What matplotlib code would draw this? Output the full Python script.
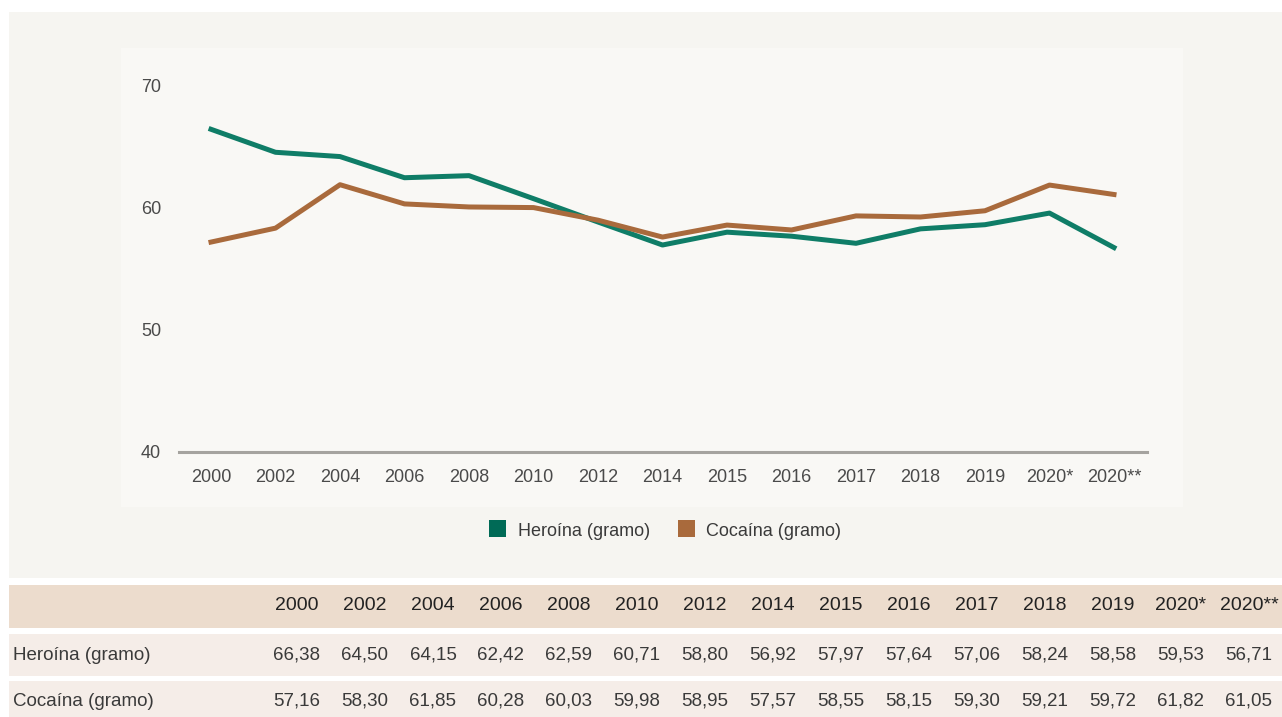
import matplotlib.pyplot as plt
from matplotlib.patches import Rectangle

years = ["2000", "2002", "2004", "2006", "2008", "2010", "2012", "2014",
         "2015", "2016", "2017", "2018", "2019", "2020*", "2020**"]
heroina = [66.38, 64.50, 64.15, 62.42, 62.59, 60.71, 58.80, 56.92,
           57.97, 57.64, 57.06, 58.24, 58.58, 59.53, 56.71]
cocaina = [57.16, 58.30, 61.85, 60.28, 60.03, 59.98, 58.95, 57.57,
           58.55, 58.15, 59.30, 59.21, 59.72, 61.82, 61.05]
labels = ["Heroína (gramo)", "Cocaína (gramo)"]
yticks = [40, 50, 60, 70]

green = "#0f7d67"
brown = "#a96a3c"
txt = "#3a3a3a"

W, H = 1282, 717
plt.rcParams['font.family'] = ['Liberation Sans', 'DejaVu Sans']
fig = plt.figure(figsize=(W / 100, H / 100), dpi=100, facecolor="white")


def box(x0, y0, x1, y1, color):
    # pixel coords measured from the top-left corner
    fig.add_artist(Rectangle((x0 / W, 1 - y1 / H), (x1 - x0) / W, (y1 - y0) / H,
                             transform=fig.transFigure, color=color, lw=0, zorder=0))


box(9, 12, 1282, 578, "#f6f5f1")
box(121, 48, 1183, 507, "#f9f8f5")
box(9, 585, 1282, 628, "#ecdccd")
box(9, 634, 1282, 676, "#f5ede8")
box(9, 681, 1282, 717, "#f5ede8")

ax = fig.add_axes([179 / W, 1 - 452 / H, 968 / W, 367 / H])
ax.set_facecolor("none")
x = range(len(years))
ax.plot(x, heroina, color=green, lw=3.6, solid_joinstyle="round", clip_on=False)
ax.plot(x, cocaina, color=brown, lw=3.6, solid_joinstyle="round", clip_on=False)
ax.set_xlim(-32 / 64.5, 14 + 33 / 64.5)
ax.set_ylim(40, 70)
ax.set_yticks(yticks)
ax.set_xticks(list(x))
ax.set_xticklabels(years)
for s in ["top", "right", "left"]:
    ax.spines[s].set_visible(False)
ax.spines["bottom"].set_color("#a5a39f")
ax.spines["bottom"].set_linewidth(2.2)
ax.tick_params(axis="both", length=0, labelsize=13, labelcolor="#4a4a4a")
ax.tick_params(axis="y", pad=13)
ax.tick_params(axis="x", pad=12.5)

# legend
for lx, tx, c, lab in [(489, 518, "#006a56", labels[0]), (678, 706, brown, labels[1])]:
    box(lx, 520, lx + 17, 537, c)
    fig.text(tx / W, 1 - 531 / H, lab, fontsize=13, color=txt, va="center", ha="left")

# table below the chart
col_x = [297 + 68 * i for i in range(len(years))]
for cx, yr in zip(col_x, years):
    fig.text(cx / W, 1 - 606 / H, yr, fontsize=14, color="#222222", ha="center", va="center")
for row_y, lab, vals in [(655, labels[0], heroina), (701, labels[1], cocaina)]:
    fig.text(13 / W, 1 - row_y / H, lab, fontsize=13.5, color=txt, ha="left", va="center")
    for cx, v in zip(col_x, vals):
        fig.text(cx / W, 1 - row_y / H, f"{v:.2f}".replace(".", ","), fontsize=13.5,
                 color=txt, ha="center", va="center")

fig.savefig("out.png", dpi=100, facecolor="white")
